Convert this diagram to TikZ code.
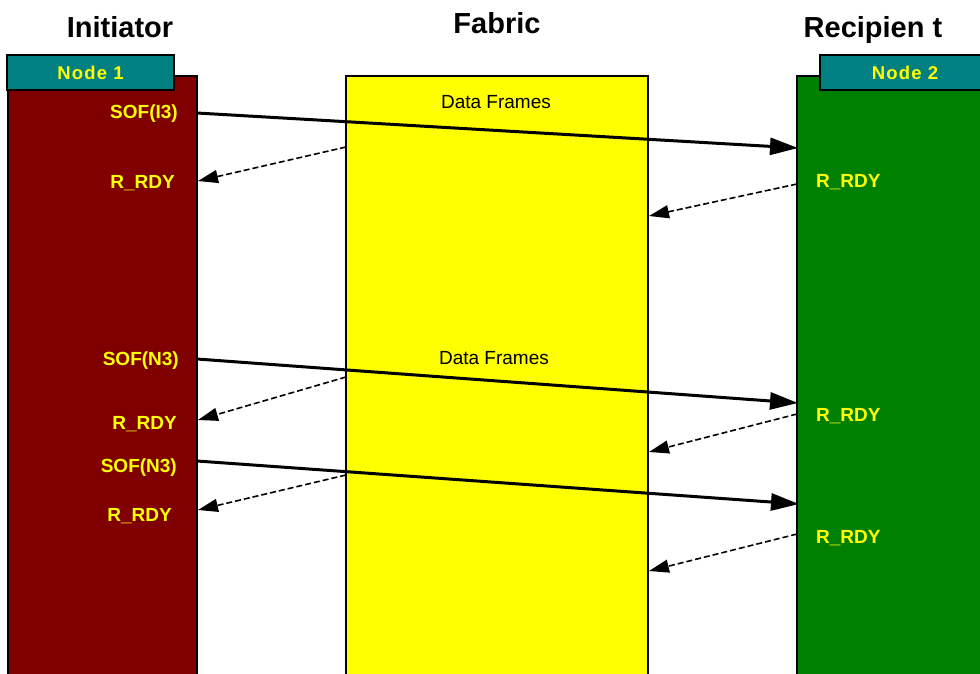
\documentclass[tikz,border=0pt]{standalone}
\usepackage{fontspec}
\setmainfont{Liberation Sans}
\usetikzlibrary{arrows.meta}
\definecolor{maroonc}{HTML}{800000}
\definecolor{tealc}{HTML}{008080}
\definecolor{greenc}{HTML}{008000}
\definecolor{yellowc}{HTML}{FFFF00}
\begin{document}
\begin{tikzpicture}[x=1pt,y=-1pt,
  col/.style={draw=black,line width=1.3pt,anchor=north west,inner sep=0pt,outer sep=0pt},
  tabbox/.style={draw=black,line width=1.5pt,fill=tealc,anchor=north west,inner sep=0pt,outer sep=0pt,
    text=yellowc,font=\fontsize{18.5}{20}\selectfont\bfseries,minimum height=35pt},
  title/.style={anchor=base,font=\fontsize{29}{34}\selectfont\bfseries,inner sep=0pt},
  lab/.style={text=yellowc,font=\fontsize{19}{22}\selectfont\bfseries,inner sep=0pt},
  dlab/.style={anchor=base,font=\fontsize{19}{22}\selectfont,inner sep=0pt},
  msg/.style={line width=3pt,-{Triangle[length=28pt,width=17pt]}},
  ack/.style={line width=1.6pt,dash pattern=on 6pt off 3pt,-{Triangle[length=20pt,width=13pt]}},
]
\useasboundingbox (0,0) rectangle (980,673);
% columns
\node[col,fill=maroonc,minimum width=189pt,minimum height=620pt] (init) at (8,76) {};
\node[col,fill=yellowc,minimum width=302pt,minimum height=620pt] (fab) at (346,76) {};
\node[col,fill=greenc,minimum width=200pt,minimum height=620pt] (recp) at (797,76) {};
% tabs
\node[tabbox,minimum width=167pt] (n1) at (7,55) {N\kern1.2pt o\kern1.2pt d\kern1.2pt e\kern1.2pt\ 1};
\node[tabbox,minimum width=170pt] (n2) at (820,55) {N\kern1.2pt o\kern1.2pt d\kern1.2pt e\kern1.2pt\ 2};
% titles
\node[title] (tinit) at (120,37) {Initiator};
\node[title] (tfab) at (497,33) {Fabric};
\node[title] (trec) at (873,37) {Recipien t};
% data frames labels
\node[dlab] (df1) at (496,108) {Data Frames};
\node[dlab] (df2) at (494,364) {Data Frames};
% initiator labels
\node[lab,anchor=base east] (s1) at (178,118) {SOF(I3)};
\node[lab,anchor=base east] (r1) at (175,188) {R\_RDY};
\node[lab,anchor=base east] (s2) at (179,365) {SOF(N3)};
\node[lab,anchor=base east] (r2) at (177,429) {R\_RDY};
\node[lab,anchor=base east] (s3) at (177,472) {SOF(N3)};
\node[lab,anchor=base east] (r3) at (172,521) {R\_RDY};
% recipient labels
\node[lab,anchor=base west] (q1) at (816,187) {R\_RDY};
\node[lab,anchor=base west] (q2) at (816,421) {R\_RDY};
\node[lab,anchor=base west] (q3) at (816,543) {R\_RDY};
% connector end points
\coordinate (a1s) at (197,113);  \coordinate (a1e) at (798,148);
\coordinate (a2s) at (197,359);  \coordinate (a2e) at (798,403);
\coordinate (a3s) at (197,461);  \coordinate (a3e) at (799,504);
\coordinate (b1s) at (346,147);  \coordinate (b1e) at (198,181);
\coordinate (b2s) at (346,377);  \coordinate (b2e) at (198,420);
\coordinate (b3s) at (346,475);  \coordinate (b3e) at (198,510);
\coordinate (c1s) at (797,184);  \coordinate (c1e) at (649,216);
\coordinate (c2s) at (797,414);  \coordinate (c2e) at (649,452);
\coordinate (c3s) at (797,534);  \coordinate (c3e) at (649,571);
% arrows
\draw[msg] (a1s) -- (a1e);
\draw[msg] (a2s) -- (a2e);
\draw[msg] (a3s) -- (a3e);
\draw[ack] (b1s) -- (b1e);
\draw[ack] (b2s) -- (b2e);
\draw[ack] (b3s) -- (b3e);
\draw[ack] (c1s) -- (c1e);
\draw[ack] (c2s) -- (c2e);
\draw[ack] (c3s) -- (c3e);
\end{tikzpicture}
\end{document}
